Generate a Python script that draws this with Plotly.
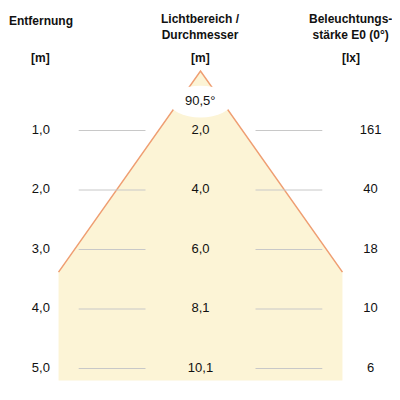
import plotly.graph_objects as go

distances = [1.0, 2.0, 3.0, 4.0, 5.0]
dist_labels = ["1,0", "2,0", "3,0", "4,0", "5,0"]
diam_labels = ["2,0", "4,0", "6,0", "8,1", "10,1"]
lux_labels = ["161", "40", "18", "10", "6"]
angle_label = "90,5°"
half_w = 3.38
bottom = 5.2
OX, OY = 7.5, 7.5  # page offset compensation (px)

fig = go.Figure()
fig.add_trace(go.Scatter(x=[-half_w, 0, half_w, half_w, -half_w, -half_w],
                         y=[half_w, 0, half_w, bottom, bottom, half_w],
                         fill="toself", fillcolor="#fcf4d6", line=dict(width=0),
                         mode="lines", hoverinfo="skip"))
fig.add_trace(go.Scatter(x=[-half_w, 0, half_w], y=[half_w, 0, half_w], mode="lines",
                         line=dict(color="#ef9e72", width=1.5), hoverinfo="skip"))
for d in distances:
    for x0, x1 in [(-2.9, -1.31), (1.31, 2.9)]:
        fig.add_trace(go.Scatter(x=[x0, x1], y=[d, d], mode="lines",
                                 line=dict(color="#c8c8c8", width=1), hoverinfo="skip"))
f = dict(family="Liberation Sans, Arial", size=13, color="#111")
fig.add_trace(go.Scatter(x=[-3.8]*5, y=distances, text=dist_labels, mode="text", textfont=f))
fig.add_trace(go.Scatter(x=[0]*5, y=distances, text=diam_labels, mode="text", textfont=f))
fig.add_trace(go.Scatter(x=[4.05]*5, y=distances, text=lux_labels, mode="text", textfont=f))
fig.add_shape(type="circle", x0=-0.75, x1=0.75, y0=0.25, y1=0.78,
              fillcolor="white", line=dict(width=0), layer="above")
fig.add_annotation(x=0, y=0.5, text=angle_label, showarrow=False, font=f)

hb = dict(family="Liberation Sans, Arial", size=12, color="#111")
heads = [(40, 20, "<b>Entfernung</b>"), (40, 58, "<b>[m]</b>"),
         (200, 26, "<b>Lichtbereich /<br>Durchmesser</b>"), (200, 58, "<b>[m]</b>"),
         (350, 26, "<b>Beleuchtungs-<br>stärke E0 (0°)</b>"), (350, 58, "<b>[lx]</b>")]
for px, py, t in heads:
    fig.add_annotation(x=(px - OX)/400, y=1-(py - OY)/400, xref="paper", yref="paper",
                       text=t, showarrow=False, font=hb, xanchor="center", yanchor="middle")

fig.update_layout(width=400, height=400, margin=dict(l=0, r=0, t=0, b=0),
                  showlegend=False, plot_bgcolor="white", paper_bgcolor="white",
                  xaxis=dict(range=[(-200 + OX)/42, (200 + OX)/42], visible=False),
                  yaxis=dict(range=[1+(270 + OY)/59.5, 1-(130 - OY)/59.5], visible=False))
fig.write_html("out.html")
